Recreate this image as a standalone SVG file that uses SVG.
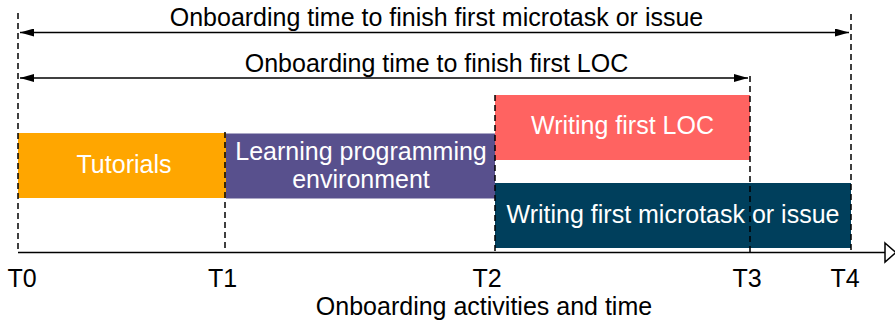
<svg xmlns="http://www.w3.org/2000/svg" width="895" height="327" viewBox="0 0 895 327">
  <defs>
    <marker id="head" viewBox="0 0 14 8" refX="14" refY="4" markerWidth="14" markerHeight="8" markerUnits="userSpaceOnUse" orient="auto-start-reverse">
      <path d="M0,0 L14,4 L0,8 Z" fill="#000"/>
    </marker>
    <style>
      text { font-family: "Liberation Sans", Arial, sans-serif; font-size: 25px; }
      .lbl { fill: #000; }
      .in { fill: #fff; text-anchor: middle; }
      .guide { stroke: #000; stroke-width: 1.5; stroke-dasharray: 6 4; fill: none; }
      .span { stroke: #000; stroke-width: 1.5; fill: none; marker-start: url(#head); marker-end: url(#head); }
    </style>
  </defs>

  <!-- activity bars -->
  <g id="tutorials">
    <rect x="18" y="133" width="208" height="65" fill="#ffa600"/>
    <text class="in" x="124" y="173">Tutorials</text>
  </g>
  <g id="learning">
    <rect x="226" y="133.5" width="269" height="65" fill="#58508d"/>
    <text class="in" x="361" y="160">Learning programming</text>
    <text class="in" x="361" y="188">environment</text>
  </g>
  <g id="first-loc">
    <rect x="495" y="95" width="255" height="65" fill="#ff6361"/>
    <text class="in" x="622.5" y="134">Writing first LOC</text>
  </g>
  <g id="first-microtask">
    <rect x="495" y="183" width="356" height="65" fill="#003f5c"/>
    <text class="in" x="673" y="223">Writing first microtask or issue</text>
  </g>

  <!-- time guides, axis and duration spans -->
  <g id="connectors">
    <line class="guide" x1="18" y1="13" x2="18" y2="252.5"/>
    <line class="guide" x1="225" y1="132" x2="225" y2="252.5"/>
    <line class="guide" x1="495" y1="95" x2="495" y2="252.5"/>
    <line class="guide" x1="750" y1="76" x2="750" y2="252.5"/>
    <line class="guide" x1="851" y1="14" x2="851" y2="252.5"/>

    <line x1="18" y1="252.5" x2="885" y2="252.5" stroke="#000" stroke-width="1.5"/>
    <path d="M885,243 L896,252.5 L885,262 Z" fill="#fff" stroke="#000" stroke-width="1.5"/>

    <line class="span" x1="20" y1="32.5" x2="849" y2="32.5"/>
    <line class="span" x1="20" y1="78" x2="748" y2="78"/>
  </g>

  <!-- span labels -->
  <g id="span-labels">
    <text class="lbl" x="436.5" y="26" text-anchor="middle">Onboarding time to finish first microtask or issue</text>
    <text class="lbl" x="436.5" y="72" text-anchor="middle">Onboarding time to finish first LOC</text>
  </g>

  <!-- axis ticks and title -->
  <g id="axis-labels">
    <text class="lbl" x="22" y="287" text-anchor="middle">T0</text>
    <text class="lbl" x="222.5" y="287" text-anchor="middle">T1</text>
    <text class="lbl" x="487" y="287" text-anchor="middle">T2</text>
    <text class="lbl" x="747" y="287" text-anchor="middle">T3</text>
    <text class="lbl" x="845" y="287" text-anchor="middle">T4</text>
    <text class="lbl" x="484" y="314.5" text-anchor="middle">Onboarding activities and time</text>
  </g>
</svg>
